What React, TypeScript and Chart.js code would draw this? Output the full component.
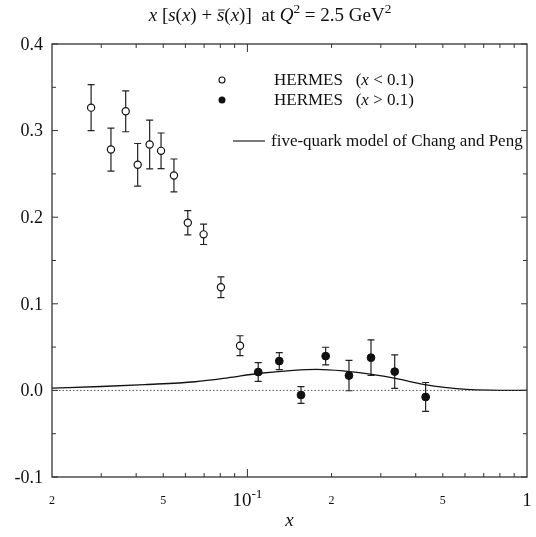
import React, { useEffect, useRef } from "react";
import { Chart, registerables } from "chart.js";

Chart.register(...registerables);

// HERMES x < 0.1 (open circles)
const openX = [0.0276, 0.0325, 0.0367, 0.0405, 0.0447, 0.0491, 0.0546, 0.0612, 0.0697, 0.0804, 0.0941];
const openY = [0.3265, 0.2781, 0.3223, 0.2605, 0.2839, 0.2766, 0.2482, 0.1937, 0.1802, 0.1191, 0.0516];
const openErr = [0.0265, 0.0248, 0.0236, 0.0246, 0.0282, 0.0206, 0.019, 0.014, 0.0117, 0.0119, 0.0115];

// HERMES x > 0.1 (filled circles)
const fullX = [0.1093, 0.13, 0.1555, 0.1905, 0.2308, 0.2767, 0.3364, 0.434];
const fullY = [0.0212, 0.0339, -0.0053, 0.0396, 0.0171, 0.0378, 0.0217, -0.0076];
const fullErr = [0.0108, 0.0098, 0.0096, 0.0102, 0.0175, 0.0206, 0.0194, 0.0167];

// five-quark model curve
const modelX = [0.02, 0.03, 0.043, 0.065, 0.085, 0.109, 0.146, 0.177, 0.22, 0.282, 0.342, 0.426, 0.516, 0.608, 0.737, 1.0];
const modelY = [0.0026, 0.0045, 0.0067, 0.01, 0.0145, 0.0195, 0.0232, 0.0243, 0.0225, 0.0182, 0.0136, 0.007, 0.0032, 0.0012, 0.0003, 0.0];

// axes
const xMin = 0.02;
const xMax = 1;
const yMin = -0.1;
const yMax = 0.4;
const yTickValues = [-0.1, 0, 0.1, 0.2, 0.3, 0.4];
const yMinorTickValues = [-0.05, 0.05, 0.15, 0.25, 0.35];
const xMinorTickValues = [0.03, 0.04, 0.05, 0.06, 0.07, 0.08, 0.09, 0.2, 0.3, 0.4, 0.5, 0.6, 0.7, 0.8, 0.9];
const xMajorTickValues = [0.1];
const xLabelValues = [0.02, 0.05, 0.1, 0.2, 0.5, 1];
const xLabelTexts = ["2", "5", "10^-1", "2", "5", "1"];

const FONT = '"Liberation Serif", "DejaVu Serif", serif';

type Run = { t: string; it?: boolean; sup?: boolean; bar?: boolean };

function runFont(r: Run, size: number) {
  const s = r.sup ? size * 0.7 : size;
  return `${r.it ? "italic " : ""}${s}px ${FONT}`;
}

function measureRuns(ctx: CanvasRenderingContext2D, runs: Run[], size: number) {
  let w = 0;
  for (const r of runs) {
    ctx.font = runFont(r, size);
    w += ctx.measureText(r.t).width;
  }
  return w;
}

function drawRuns(ctx: CanvasRenderingContext2D, runs: Run[], x: number, y: number, size: number, align: "left" | "center") {
  const total = measureRuns(ctx, runs, size);
  let cx = align === "center" ? x - total / 2 : x;
  ctx.textBaseline = "alphabetic";
  ctx.textAlign = "left";
  for (const r of runs) {
    ctx.font = runFont(r, size);
    const w = ctx.measureText(r.t).width;
    const yy = r.sup ? y - size * 0.42 : y;
    ctx.fillText(r.t, cx, yy);
    if (r.bar) {
      ctx.save();
      ctx.lineWidth = 1;
      ctx.beginPath();
      ctx.moveTo(cx + 1, y - size * 0.58);
      ctx.lineTo(cx + w + 0.5, y - size * 0.58);
      ctx.stroke();
      ctx.restore();
    }
    cx += w;
  }
}

const errorBarPlugin = {
  id: "errorBars",
  beforeDatasetsDraw(chart: any) {
    const ctx = chart.ctx as CanvasRenderingContext2D;
    const ys = chart.scales.y;
    const xs = chart.scales.x;
    const sets: [number[], number[], number[]][] = [
      [openX, openY, openErr],
      [fullX, fullY, fullErr],
    ];
    ctx.save();
    ctx.strokeStyle = "#222";
    ctx.lineWidth = 1.2;
    for (const [xsArr, ysArr, es] of sets) {
      for (let i = 0; i < xsArr.length; i++) {
        const px = xs.getPixelForValue(xsArr[i]);
        const top = ys.getPixelForValue(ysArr[i] + es[i]);
        const bot = ys.getPixelForValue(ysArr[i] - es[i]);
        ctx.beginPath();
        ctx.moveTo(px, top);
        ctx.lineTo(px, bot);
        ctx.moveTo(px - 3.5, top);
        ctx.lineTo(px + 3.5, top);
        ctx.moveTo(px - 3.5, bot);
        ctx.lineTo(px + 3.5, bot);
        ctx.stroke();
      }
    }
    ctx.restore();
  },
};

const framePlugin = {
  id: "frame",
  afterDraw(chart: any) {
    const ctx = chart.ctx as CanvasRenderingContext2D;
    const a = chart.chartArea;
    const xs = chart.scales.x;
    const ys = chart.scales.y;
    ctx.save();
    ctx.strokeStyle = "#333";
    ctx.fillStyle = "#111";
    ctx.lineWidth = 1.3;
    ctx.strokeRect(a.left, a.top, a.right - a.left, a.bottom - a.top);

    ctx.lineWidth = 1;
    ctx.beginPath();
    const xTick = (v: number, len: number) => {
      const px = xs.getPixelForValue(v);
      ctx.moveTo(px, a.bottom);
      ctx.lineTo(px, a.bottom - len);
      ctx.moveTo(px, a.top);
      ctx.lineTo(px, a.top + len);
    };
    const yTick = (v: number, len: number) => {
      const py = ys.getPixelForValue(v);
      ctx.moveTo(a.left, py);
      ctx.lineTo(a.left + len, py);
      ctx.moveTo(a.right, py);
      ctx.lineTo(a.right - len, py);
    };
    xMinorTickValues.forEach((v) => xTick(v, 4));
    xMajorTickValues.forEach((v) => xTick(v, 8));
    yTickValues.forEach((v) => yTick(v, 6));
    yMinorTickValues.forEach((v) => yTick(v, 4));
    ctx.stroke();

    // y labels
    ctx.fillStyle = "#111";
    ctx.font = `18px ${FONT}`;
    ctx.textAlign = "right";
    ctx.textBaseline = "middle";
    yTickValues.forEach((v) => {
      ctx.fillText(v.toFixed(1), a.left - 9, ys.getPixelForValue(v) + 1);
    });

    // x labels
    xLabelValues.forEach((v, i) => {
      const px = xs.getPixelForValue(v);
      const t = xLabelTexts[i];
      if (t.includes("^")) {
        const [b, e] = t.split("^");
        drawRuns(ctx, [{ t: b }, { t: e, sup: true }], px, 506, 19, "center");
      } else if (t === "1") {
        drawRuns(ctx, [{ t }], px, 506, 19, "center");
      } else {
        drawRuns(ctx, [{ t }], px, 504, 12, "center");
      }
    });

    // x axis title
    drawRuns(ctx, [{ t: "x", it: true }], (a.left + a.right) / 2, 526, 19, "center");

    // chart title
    drawRuns(
      ctx,
      [
        { t: "x", it: true },
        { t: " [" },
        { t: "s", it: true },
        { t: "(" },
        { t: "x", it: true },
        { t: ") + " },
        { t: "s", it: true, bar: true },
        { t: "(" },
        { t: "x", it: true },
        { t: ")]  at " },
        { t: "Q", it: true },
        { t: "2", sup: true },
        { t: " = 2.5 GeV" },
        { t: "2", sup: true },
      ],
      270,
      21,
      19,
      "center"
    );

    // legend
    ctx.lineWidth = 1.1;
    ctx.strokeStyle = "#111";
    ctx.fillStyle = "#fff";
    ctx.beginPath();
    ctx.arc(222, 80, 3, 0, Math.PI * 2);
    ctx.fill();
    ctx.stroke();
    ctx.fillStyle = "#111";
    ctx.beginPath();
    ctx.arc(222, 100, 3.5, 0, Math.PI * 2);
    ctx.fill();
    drawRuns(ctx, [{ t: "HERMES   (" }, { t: "x", it: true }, { t: " < 0.1)" }], 274, 85, 17, "left");
    drawRuns(ctx, [{ t: "HERMES   (" }, { t: "x", it: true }, { t: " > 0.1)" }], 274, 105, 17, "left");
    ctx.strokeStyle = "#222";
    ctx.lineWidth = 1.2;
    ctx.beginPath();
    ctx.moveTo(233, 141);
    ctx.lineTo(265, 141);
    ctx.stroke();
    drawRuns(ctx, [{ t: "five-quark model of Chang and Peng" }], 271, 146, 17, "left");
    ctx.restore();
  },
};

export default function App() {
  const ref = useRef<HTMLCanvasElement | null>(null);
  useEffect(() => {
    if (!ref.current) return;
    const chart = new Chart(ref.current, {
      type: "scatter",
      data: {
        datasets: [
          {
            data: [
              { x: xMin, y: 0 },
              { x: xMax, y: 0 },
            ],
            showLine: true,
            borderColor: "#555",
            borderWidth: 1,
            borderDash: [1.5, 2],
            pointRadius: 0,
          },
          {
            data: modelX.map((x, i) => ({ x, y: modelY[i] })),
            showLine: true,
            borderColor: "#111",
            borderWidth: 1.3,
            pointRadius: 0,
            cubicInterpolationMode: "monotone",
          },
          {
            data: openX.map((x, i) => ({ x, y: openY[i] })),
            pointRadius: 3.6,
            pointBackgroundColor: "#fff",
            pointBorderColor: "#111",
            pointBorderWidth: 1.2,
          },
          {
            data: fullX.map((x, i) => ({ x, y: fullY[i] })),
            pointRadius: 3.9,
            pointBackgroundColor: "#111",
            pointBorderColor: "#111",
            pointBorderWidth: 1,
          },
        ] as any,
      },
      options: {
        responsive: false,
        animation: false,
        layout: { padding: { left: 52, right: 9, top: 44, bottom: 60 } },
        scales: {
          x: { type: "logarithmic", min: xMin, max: xMax, display: false },
          y: { type: "linear", min: yMin, max: yMax, display: false },
        },
        plugins: { legend: { display: false }, tooltip: { enabled: false }, title: { display: false } },
      },
      plugins: [errorBarPlugin, framePlugin],
    });
    return () => chart.destroy();
  }, []);
  return (
    <div style={{ position: "fixed", left: 0, top: 0, width: 536, height: 537, background: "#fff" }}>
      <canvas ref={ref} width={536} height={537} />
    </div>
  );
}
